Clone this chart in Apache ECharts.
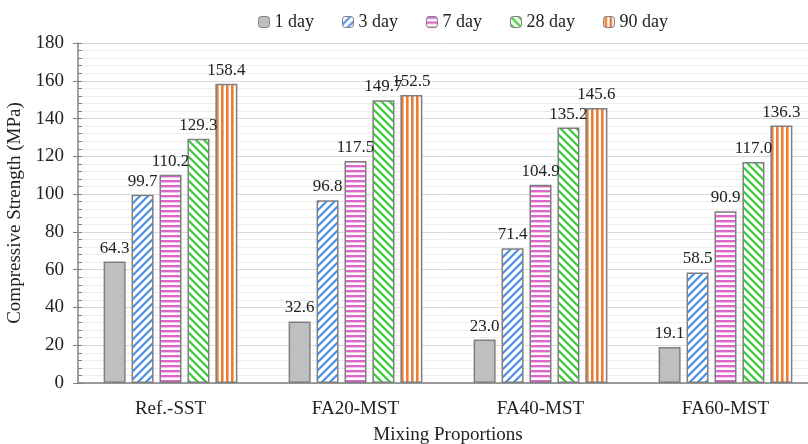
<!DOCTYPE html>
<html><head><meta charset="utf-8">
<script src="https://cdn.jsdelivr.net/npm/echarts@6/dist/echarts.min.js"></script>
<style>html,body{margin:0;padding:0;background:#fff}#c{width:808px;height:444px}</style>
</head><body><div id="c"></div>
<script>
var categories = ['Ref.-SST', 'FA20-MST', 'FA40-MST', 'FA60-MST'];
var seriesNames = ['1 day', '3 day', '7 day', '28 day', '90 day'];
var day1 = [64.3, 32.6, 23.0, 19.1];
var day3 = [99.7, 96.8, 71.4, 58.5];
var day7 = [110.2, 117.5, 104.9, 90.9];
var day28 = [129.3, 149.7, 135.2, 117.0];
var day90 = [158.4, 152.5, 145.6, 136.3];
var yTicks = [0, 20, 40, 60, 80, 100, 120, 140, 160, 180];

function pat(kind) {
  var c = document.createElement('canvas');
  var ctx = c.getContext('2d');
  if (kind === 'diagR' || kind === 'diagL') {
    c.width = 8; c.height = 8;
    ctx.fillStyle = '#fff'; ctx.fillRect(0, 0, 8, 8);
    ctx.strokeStyle = kind === 'diagR' ? '#4A90E2' : '#33CC33';
    ctx.lineWidth = 2.2;
    ctx.beginPath();
    if (kind === 'diagR') {
      for (var k = -1; k <= 1; k++) { ctx.moveTo(-2 + 8 * k, 10); ctx.lineTo(10 + 8 * k, -2); }
    } else {
      for (var k = -1; k <= 1; k++) { ctx.moveTo(-2 + 8 * k, -2); ctx.lineTo(10 + 8 * k, 10); }
    }
    ctx.stroke();
  } else if (kind === 'horiz') {
    c.width = 5; c.height = 5;
    ctx.fillStyle = '#fff'; ctx.fillRect(0, 0, 5, 5);
    ctx.fillStyle = '#DD66CC'; ctx.fillRect(0, 0, 5, 2.4);
  } else if (kind === 'vert') {
    c.width = 5; c.height = 5;
    ctx.fillStyle = '#fff'; ctx.fillRect(0, 0, 5, 5);
    ctx.fillStyle = '#ED7D31'; ctx.fillRect(1, 0, 2.6, 5);
  }
  return { image: c, repeat: 'repeat' };
}

var fills = ['#BFBFBF', pat('diagR'), pat('horiz'), pat('diagL'), pat('vert')];
var datasets = [day1, day3, day7, day28, day90];
var font = '"Liberation Serif", "Times New Roman", serif';

var series = datasets.map(function (d, i) {
  return {
    name: seriesNames[i], type: 'bar', data: d,
    barWidth: 22, barGap: '27%',
    itemStyle: { color: fills[i], borderColor: '#7F7F7F', borderWidth: 1.5 },
    label: { show: true, position: 'top', distance: 5, fontFamily: font, fontSize: 17, color: '#222',
      formatter: function (p) { return p.value.toFixed(1); } }
  };
});

var chart = echarts.init(document.getElementById('c'));
chart.setOption({
  animation: false,
  textStyle: { fontFamily: font },
  legend: {
    top: 8, left: 253, itemWidth: 11, itemHeight: 11, itemGap: 28,
    textStyle: { fontFamily: font, fontSize: 18, color: '#222', padding: [0, 0, 0, 0] },
    data: seriesNames.map(function (n, i) { return { name: n, itemStyle: { color: fills[i], borderColor: '#7F7F7F', borderWidth: 1 } }; })
  },
  grid: { left: 78, right: -10, top: 43, bottom: 61, outerBoundsMode: 'none', containLabel: false },
  xAxis: {
    type: 'category', data: categories,
    axisLine: { lineStyle: { color: '#808080', width: 1.5 } },
    axisTick: { show: false },
    axisLabel: { fontFamily: font, fontSize: 19, color: '#222', margin: 17 },
    name: 'Mixing Proportions', nameLocation: 'middle', nameGap: 43,
    nameTextStyle: { fontFamily: font, fontSize: 19, color: '#222' }
  },
  yAxis: [{
    type: 'value', min: 0, max: 180, interval: 20,
    axisLine: { show: true, lineStyle: { color: '#808080', width: 1.5 } },
    axisTick: { show: true, length: 5, lineStyle: { color: '#808080' } },
    axisLabel: { fontFamily: font, fontSize: 19, color: '#222', margin: 14,
      customValues: yTicks },
    splitLine: { lineStyle: { color: '#D9D9D9', width: 1 } },
    minorTick: { show: false, splitNumber: 5 },
    minorSplitLine: { show: true, lineStyle: { color: '#EDEDED', width: 1 } },
    name: 'Compressive Strength (MPa)', nameLocation: 'middle', nameGap: 53,
    nameTextStyle: { fontFamily: font, fontSize: 19, color: '#222' }
  }, {
    type: 'value', min: 0, max: 180, interval: 4, position: 'left',
    axisLine: { show: false },
    axisTick: { show: true, inside: true, length: 4, lineStyle: { color: '#808080' } },
    axisLabel: { show: false }, splitLine: { show: false }
  }],
  series: series
});
</script></body></html>
